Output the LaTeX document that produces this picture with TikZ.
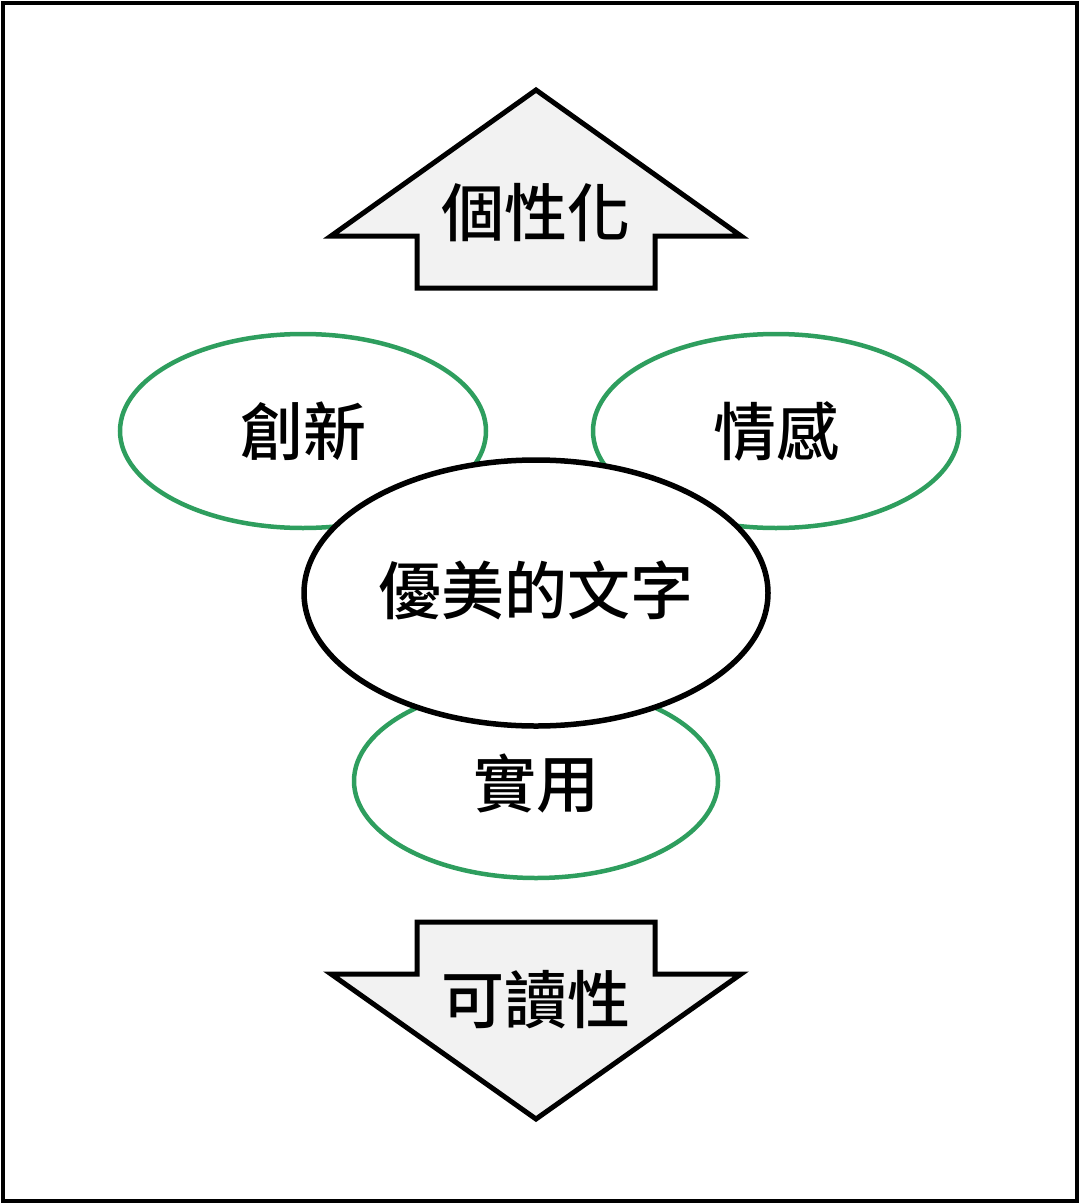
\documentclass[tikz,border=0pt]{standalone}
\usepackage{fontspec}
\newfontfamily\cjk[UprightFont={* Medium}]{Noto Sans CJK TC}
\definecolor{egreen}{HTML}{2E9E5E}
\definecolor{afill}{HTML}{F2F2F2}
\begin{document}
\begin{tikzpicture}[x=1pt,y=-1pt,
  lbl/.style={font=\cjk\fontsize{63}{63}\selectfont, inner sep=0pt},
  greenell/.style={draw=egreen, line width=4.5pt, fill=white},
  mainell/.style={draw=black, line width=5.5pt, fill=white},
  arrowshape/.style={draw=black, line width=5pt, fill=afill, line join=miter}]
\useasboundingbox (0,0) rectangle (1080,1204);
\draw[line width=4pt] (3,3) rectangle (1077,1201);
% up arrow
\draw[arrowshape] (536,90) -- (741,236) -- (655,236) -- (655,288) -- (417,288) -- (417,236) -- (331,236) -- cycle;
\node[lbl] (up) at (536,213) {個性化};
% down arrow
\draw[arrowshape] (536,1119) -- (741,974) -- (655,974) -- (655,922) -- (417,922) -- (417,974) -- (331,974) -- cycle;
\node[lbl] (down) at (536,1000) {可讀性};
% green ellipses
\draw[greenell] (303,431) ellipse [x radius=183, y radius=97];
\node[lbl] (cx) at (303,431) {創新};
\draw[greenell] (776,431) ellipse [x radius=183, y radius=97];
\node[lbl] (qg) at (776,431) {情感};
\draw[greenell] (536,781) ellipse [x radius=182, y radius=97];
\node[lbl] (sy) at (536,783) {實用};
% central ellipse
\draw[mainell] (536,593) ellipse [x radius=232, y radius=133];
\node[lbl] (center) at (536,590) {優美的文字};
\end{tikzpicture}
\end{document}
